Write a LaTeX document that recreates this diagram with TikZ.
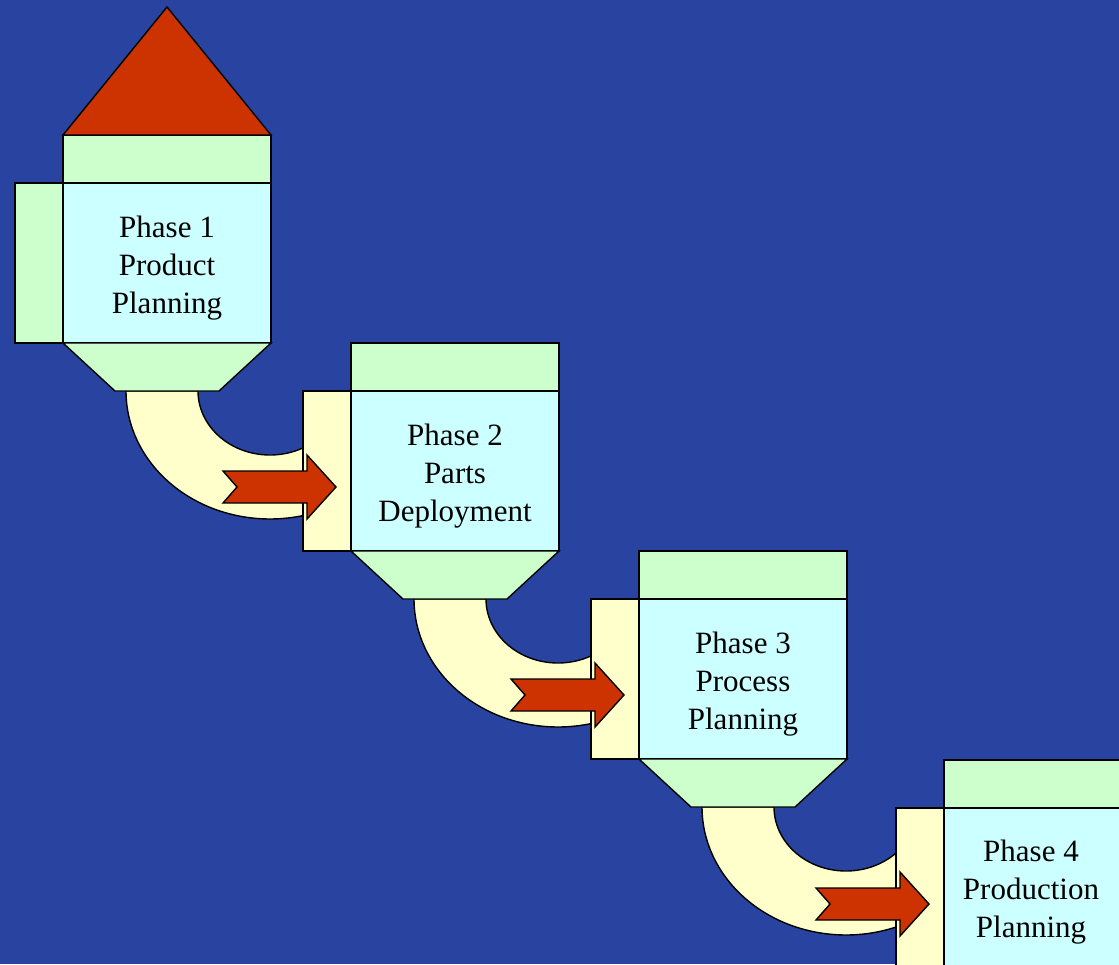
\documentclass[tikz,border=0pt]{standalone}
\usepackage{fontspec}
\setmainfont{Liberation Serif}
\usetikzlibrary{calc}
\definecolor{bg}{RGB}{40,68,160}
\definecolor{grn}{RGB}{204,255,204}
\definecolor{cyn}{RGB}{204,255,255}
\definecolor{yel}{RGB}{255,255,204}
\definecolor{rd}{RGB}{204,51,0}
\tikzset{
  outl/.style={draw=black, line width=1.4pt, line join=miter},
  mainbox/.style={outl, fill=cyn, rectangle, minimum width=208pt, minimum height=160pt, inner sep=0pt},
  band/.style={outl, fill=yel},
  redshape/.style={outl, fill=rd},
  lbl/.style={align=center, anchor=base, inner sep=0pt, font=\fontsize{31}{38}\selectfont}
}
\begin{document}
\begin{tikzpicture}[x=1pt,y=-1pt]
\useasboundingbox (0,0) rectangle (1119,964);
\fill[bg] (0,0) rectangle (1119,964);
\clip (0,0) rectangle (1119,964);
% curved bands
\foreach \k in {0,1,2} {
  \coordinate (c\k) at (270+288*\k, 391+208*\k);
  \draw[band] ($(c\k)+(-144,0)$) arc[start angle=180, end angle=67.5, x radius=144, y radius=128]
    -- ($(c\k)+(40.2:72 and 64)$) arc[start angle=40.2, end angle=180, x radius=72, y radius=64] -- cycle;
}
% blocks
\foreach \dx/\dy/\i/\lc in {0/0/1/grn, 288/208/2/yel, 576/416/3/yel, 881/625/4/yel} {
  \begin{scope}[shift={(\dx,\dy)}]
    \node[mainbox] (m\i) at (167,263) {};
    \draw[outl, fill=grn] (63,135) rectangle (271,183);
    \draw[outl, fill=\lc] (15,183) rectangle (63,343);
    \draw[outl, fill=grn] (63,343) -- (271,343) -- (219,391) -- (115,391) -- cycle;
  \end{scope}
}
% roof
\draw[redshape] (63,135) -- (271,135) -- (167,7) -- cycle;
% red arrows
\foreach \dx/\dy in {288/208, 576/416, 881/625} {
  \begin{scope}[shift={(\dx,\dy)}]
    \draw[redshape] (-65,263) -- (19,263) -- (19,247) -- (48,279) -- (19,311) -- (19,295) -- (-65,295) -- (-51,279) -- cycle;
  \end{scope}
}
% labels (base anchor = baseline of last line)
\node[lbl] (t1) at (167,313) {Phase 1\\Product\\Planning};
\node[lbl] (t2) at (455,521) {Phase 2\\Parts\\Deployment};
\node[lbl] (t3) at (743,729) {Phase 3\\Process\\Planning};
\node[lbl] (t4) at (1031,937) {Phase 4\\Production\\Planning};
\end{tikzpicture}
\end{document}
